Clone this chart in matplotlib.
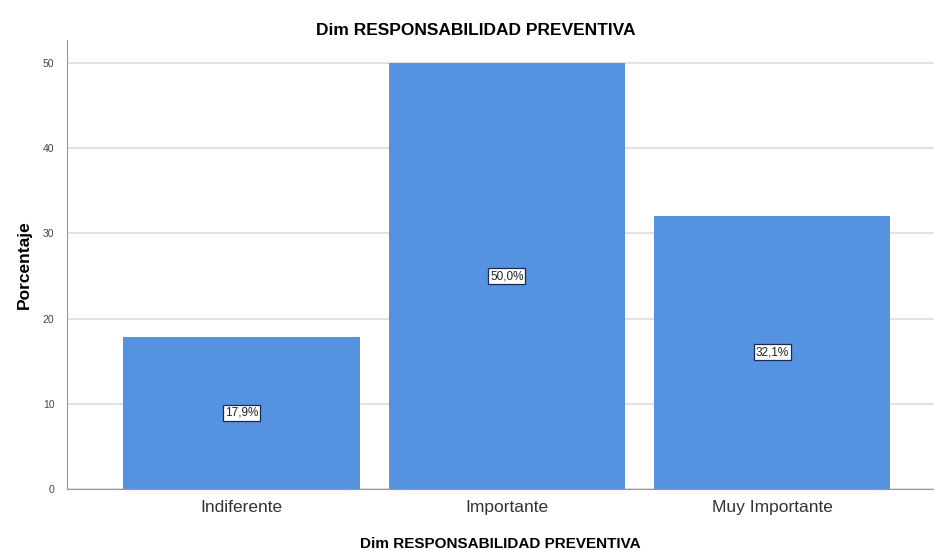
import matplotlib
matplotlib.use("Agg")
import matplotlib.pyplot as plt

plt.rcParams["font.family"] = ["Liberation Sans", "DejaVu Sans"]

categories = ["Indiferente", "Importante", "Muy Importante"]
values = [17.9, 50.0, 32.1]
labels = ["17,9%", "50,0%", "32,1%"]
yticks = [0, 10, 20, 30, 40, 50]

fig = plt.figure(figsize=(9.34, 5.5), dpi=100)
ax = fig.add_axes([0.0717, 0.111, 0.9283, 0.816])

x = list(range(len(categories)))
ax.bar(x, values, width=0.89, color="#5592e0", zorder=3)
for xi, v, lab in zip(x, values, labels):
    ax.text(xi, v / 2, lab, ha="center", va="center", fontsize=8.5, color="#222222",
            bbox=dict(boxstyle="square,pad=0.15", fc="white", ec="#1a2a50", lw=0.9), zorder=4)

ax.set_xlim(-0.658, 2.61)
ax.set_ylim(0, 52.7)
ax.set_yticks(yticks)
ax.set_yticklabels([str(t) for t in yticks], fontsize=7.5, color="#444444")
ax.set_xticks(x)
ax.set_xticklabels(categories, fontsize=12.5, color="#333333")
ax.tick_params(axis="y", length=0, pad=9)
ax.tick_params(axis="x", length=0, pad=8)
ax.grid(axis="y", color="#dddddd", lw=1.2, zorder=0)
for s in ["top", "right"]:
    ax.spines[s].set_visible(False)
ax.spines["left"].set_color("#999999")
ax.spines["bottom"].set_color("#999999")

ax.set_ylabel("Porcentaje", fontsize=12.5, fontweight="bold", labelpad=8)
ax.set_xlabel("Dim RESPONSABILIDAD PREVENTIVA", fontsize=11, fontweight="bold", labelpad=16)
fig.text(0.509, 0.945, "Dim RESPONSABILIDAD PREVENTIVA", ha="center", va="center",
         fontsize=12.5, fontweight="bold")

fig.savefig("out.png", dpi=100, facecolor="white")
